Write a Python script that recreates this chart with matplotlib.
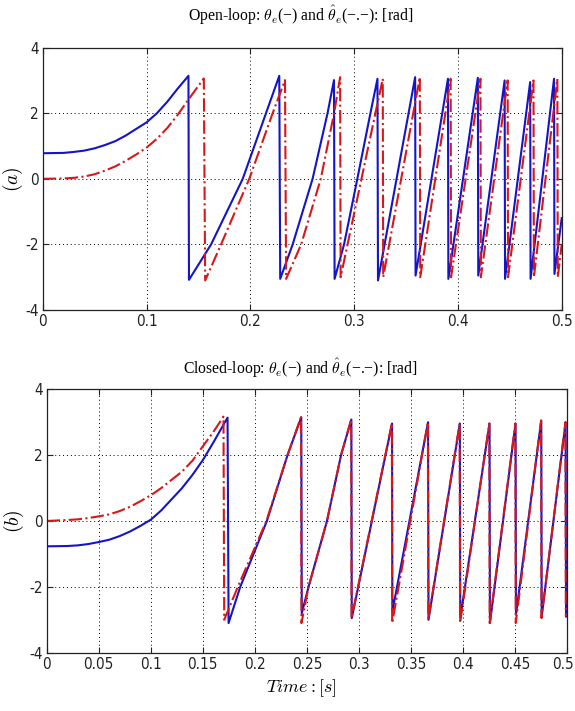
import matplotlib
matplotlib.use('Agg')
import matplotlib.pyplot as plt
from matplotlib.transforms import ScaledTranslation

# Open-loop: true angle (solid) and estimate (dash-dot)
ol_true_t = [0.0, 0.02, 0.03, 0.04, 0.05, 0.06, 0.07, 0.08, 0.09, 0.10, 0.11, 0.12, 0.13, 0.1404,
             0.1409, 0.1622, 0.1927, 0.2151, 0.2279,
             0.2288, 0.2408, 0.2600, 0.2744, 0.2806,
             0.2812, 0.2903, 0.3031, 0.3157, 0.3225,
             0.3230, 0.3588, 0.3592, 0.3904, 0.3908, 0.4192, 0.4196, 0.4450,
             0.4454, 0.4696, 0.4700, 0.4926, 0.4930, 0.5000]
ol_true_y = [0.78, 0.79, 0.82, 0.86, 0.93, 1.03, 1.15, 1.32, 1.52, 1.72, 2.00, 2.35, 2.75, 3.14,
             -3.08, -2.00, 0.00, 2.00, 3.14,
             -3.05, -2.00, 0.00, 2.00, 3.01,
             -3.05, -2.00, 0.00, 2.00, 3.05,
             -3.10, 3.10, -2.95, 3.05, -3.05, 3.08, -2.95, 3.00,
             -3.05, 2.95, -3.05, 3.05, -2.90, -1.20]

ol_est_t = [0.0, 0.02, 0.03, 0.04, 0.05, 0.06, 0.07, 0.08, 0.09, 0.10, 0.11, 0.12, 0.13, 0.14, 0.1552,
            0.1565, 0.1718, 0.1990, 0.2215, 0.2334,
            0.2345, 0.2490, 0.2679, 0.2807, 0.2865,
            0.2870, 0.2937, 0.3071, 0.3205, 0.3276,
            0.3280, 0.3633, 0.3637, 0.3930, 0.3934, 0.4217, 0.4221, 0.4479,
            0.4483, 0.4728, 0.4732, 0.4958, 0.4962, 0.5000]
ol_est_y = [0.00, 0.01, 0.03, 0.07, 0.14, 0.25, 0.38, 0.55, 0.74, 0.95, 1.22, 1.55, 1.95, 2.40, 3.06,
            -3.10, -2.00, 0.00, 2.00, 3.01,
            -3.05, -2.00, 0.00, 2.00, 3.10,
            -3.00, -2.00, 0.00, 2.00, 3.05,
            -3.00, 3.10, -3.00, 3.05, -3.00, 3.05, -3.00, 3.00,
            -3.00, 3.00, -3.00, 3.05, -3.00, -2.00]

# Closed-loop
cl_true_t = [0.0, 0.02, 0.03, 0.04, 0.05, 0.06, 0.07, 0.08, 0.09, 0.10, 0.11, 0.12, 0.13, 0.14,
             0.15, 0.16, 0.1737,
             0.1747, 0.1859, 0.2115, 0.2313, 0.2445,
             0.2450, 0.2515, 0.2692, 0.2827, 0.2926,
             0.2930, 0.3317, 0.3320, 0.3663, 0.3667, 0.3968, 0.3972, 0.4253,
             0.4257, 0.4503, 0.4507, 0.4750, 0.4754, 0.4984, 0.4988]
cl_true_y = [-0.77, -0.76, -0.74, -0.70, -0.64, -0.57, -0.46, -0.32, -0.15, 0.04, 0.32, 0.66, 1.00, 1.40,
             1.85, 2.38, 3.14,
             -3.10, -2.00, 0.00, 2.00, 3.15,
             -2.80, -2.00, 0.00, 2.00, 3.08,
             -2.95, 2.96, -2.75, 3.00, -3.00, 2.96, -2.95, 2.96,
             -3.10, 2.96, -2.85, 3.05, -2.90, 3.00, -2.90]

cl_est_t = [0.0, 0.02, 0.03, 0.04, 0.05, 0.06, 0.07, 0.08, 0.09, 0.10, 0.11, 0.12, 0.13, 0.14,
            0.15, 0.16, 0.1698,
            0.1705, 0.1836, 0.2110, 0.2313, 0.2442,
            0.2447, 0.2515, 0.2692, 0.2827, 0.2924,
            0.2928, 0.3315, 0.3318, 0.3661, 0.3665, 0.3966, 0.3970, 0.4251,
            0.4255, 0.4501, 0.4505, 0.4748, 0.4752, 0.4982, 0.4986]
cl_est_y = [0.00, 0.03, 0.05, 0.09, 0.14, 0.20, 0.30, 0.43, 0.60, 0.78, 1.00, 1.25, 1.50, 1.83,
            2.27, 2.70, 3.17,
            -3.00, -2.00, 0.00, 2.00, 3.15,
            -3.10, -2.00, 0.00, 2.00, 3.08,
            -2.95, 2.96, -3.10, 3.00, -3.00, 2.96, -3.10, 2.96,
            -3.10, 2.96, -3.10, 3.05, -2.95, 3.00, -2.90]

top_xticks = [0, 0.1, 0.2, 0.3, 0.4, 0.5]
top_xlabels = ['0', '0.1', '0.2', '0.3', '0.4', '0.5']
bot_xticks = [0, 0.05, 0.1, 0.15, 0.2, 0.25, 0.3, 0.35, 0.4, 0.45, 0.5]
bot_xlabels = ['0', '0.05', '0.1', '0.15', '0.2', '0.25', '0.3', '0.35', '0.4', '0.45', '0.5']
yticks = [-4, -2, 0, 2, 4]

BLUE = '#1414c8'
RED = '#d81818'

plt.rcParams['mathtext.fontset'] = 'cm'
plt.rcParams['font.family'] = ['DejaVu Sans']

fig = plt.figure(figsize=(5.75, 7.11), dpi=100)
ax1 = fig.add_axes([0.0743, 0.564, 0.9026, 0.369])
ax2 = fig.add_axes([0.0812, 0.082, 0.9054, 0.3705])


def style(ax, xticks, xlabels):
    ax.set_xlim(0, 0.5)
    ax.set_ylim(-4, 4)
    ax.set_xticks(xticks)
    ax.set_xticklabels(xlabels)
    ax.set_yticks(yticks)
    ax.set_yticklabels([str(v) for v in yticks])
    ax.tick_params(direction='in', length=4, width=0.8, top=True, right=True,
                   labelsize=11, pad=3, colors='#222222')
    for lab in ax.get_xticklabels() + ax.get_yticklabels():
        lab.set_fontstretch('condensed')
    ax.grid(True, linestyle=(0, (1, 3)), color='black', linewidth=0.7)
    for s in ax.spines.values():
        s.set_linewidth(0.9)
        s.set_color('#222222')


ax1.plot(ol_true_t, ol_true_y, color=BLUE, linewidth=1.5)
ax1.plot(ol_est_t, ol_est_y, color=RED, linewidth=1.5, linestyle='-.')
style(ax1, top_xticks, top_xlabels)
ax1.set_ylabel(r'$(a)$', fontsize=14)
ax1.yaxis.set_label_coords(-0.034, 0.5)

ax2.plot(cl_true_t, cl_true_y, color=BLUE, linewidth=1.5)
ax2.plot(cl_est_t, cl_est_y, color=RED, linewidth=1.5, linestyle='-.')
style(ax2, bot_xticks, bot_xlabels)
ax2.set_ylabel(r'$(b)$', fontsize=14)
ax2.yaxis.set_label_coords(-0.04, 0.5)
ax2.set_xlabel(r'$Time:[s]$', fontsize=13)
ax2.xaxis.set_label_coords(0.49, -0.095)

# nudge the last bottom tick label so it stays inside the figure edge
last = ax2.get_xticklabels()[-1]
last.set_transform(last.get_transform() + ScaledTranslation(-3 / 72, 0, fig.dpi_scale_trans))

fig.text(0.522, 0.979, 'Open-loop: $\\theta_e$(\u2212) and $\\hat{\\theta}_e$(\u2212.\u2212): [rad]',
         ha='center', va='center', fontsize=11.3, family='Liberation Serif')
fig.text(0.522, 0.482, 'Closed-loop: $\\theta_e$(\u2212) and $\\hat{\\theta}_e$(\u2212.\u2212): [rad]',
         ha='center', va='center', fontsize=11.3, family='Liberation Serif')

fig.savefig('out.png', dpi=100)
